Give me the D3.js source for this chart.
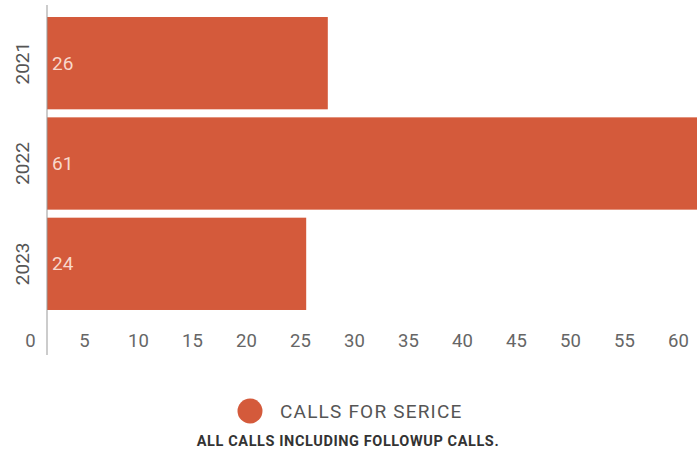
<!DOCTYPE html>
<html>
<head>
<meta charset="utf-8">
<script src="https://cdn.jsdelivr.net/npm/d3@7"></script>
<style>
  body { margin: 0; background: #fff; }
  text { font-family: Roboto, "Noto Sans", sans-serif; }
</style>
</head>
<body>
<div id="chart"></div>
<script>
// data
const years = ["2021", "2022", "2023"];
const calls = [26, 61, 24];
const xTicks = [0, 5, 10, 15, 20, 25, 30, 35, 40, 45, 50, 55, 60];
const seriesName = "CALLS FOR SERICE";
const footNote = "ALL CALLS INCLUDING FOLLOWUP CALLS.";

const width = 697, height = 455;
const barColor = "#d45a3b";

const svg = d3.select("#chart").append("svg")
  .attr("width", width)
  .attr("height", height);

const x = d3.scaleLinear().domain([0, 60]).range([47, 695]);
const y = d3.scaleBand().domain(years).range([13, 314]).paddingInner(0.08).paddingOuter(0.04);

// bars
svg.selectAll(".bar")
  .data(years.map((yr, i) => ({ year: yr, value: calls[i] })))
  .enter().append("rect")
  .attr("class", "bar")
  .attr("x", x(0))
  .attr("y", d => y(d.year))
  .attr("width", d => x(d.value) - x(0))
  .attr("height", y.bandwidth())
  .style("fill", barColor);

// value labels inside bars
svg.selectAll(".val")
  .data(years.map((yr, i) => ({ year: yr, value: calls[i] })))
  .enter().append("text")
  .attr("class", "val")
  .attr("x", x(0) + 5)
  .attr("y", d => y(d.year) + y.bandwidth() / 2)
  .attr("dy", "0.35em")
  .style("font-size", "19px")
  .style("fill", "#f8d8cc")
  .text(d => d.value);

// y axis line
svg.append("line")
  .attr("x1", x(0)).attr("x2", x(0))
  .attr("y1", 5).attr("y2", 355)
  .style("stroke", "#999")
  .style("stroke-width", 1);

// year labels (rotated)
svg.selectAll(".yr")
  .data(years)
  .enter().append("text")
  .attr("class", "yr")
  .attr("transform", d => `translate(22,${y(d) + y.bandwidth() / 2}) rotate(-90)`)
  .attr("text-anchor", "middle")
  .attr("dy", "0.35em")
  .style("font-size", "19px")
  .style("fill", "#555")
  .text(d => d);

// x tick labels
const xAxis = svg.append("g")
  .attr("transform", "translate(0,341)")
  .call(d3.axisBottom(x).tickValues(xTicks).tickSize(0).tickPadding(0));
xAxis.select(".domain").remove();
xAxis.selectAll("text")
  .attr("dx", -17)
  .attr("dy", "0.35em")
  .style("font-family", "Roboto, 'Noto Sans', sans-serif")
  .style("font-size", "18.5px")
  .style("fill", "#666");

// legend
svg.append("circle")
  .attr("cx", 250).attr("cy", 411).attr("r", 12.5)
  .style("fill", barColor);
svg.append("text")
  .attr("x", 280).attr("y", 411)
  .attr("dy", "0.35em")
  .style("font-size", "19px")
  .style("letter-spacing", "1.2px")
  .style("fill", "#555")
  .text(seriesName);

svg.append("text")
  .attr("x", 348).attr("y", 441)
  .attr("text-anchor", "middle")
  .attr("dy", "0.35em")
  .style("font-size", "14.5px")
  .style("letter-spacing", "0.6px")
  .style("font-weight", "bold")
  .style("fill", "#333")
  .text(footNote);
</script>
</body>
</html>
